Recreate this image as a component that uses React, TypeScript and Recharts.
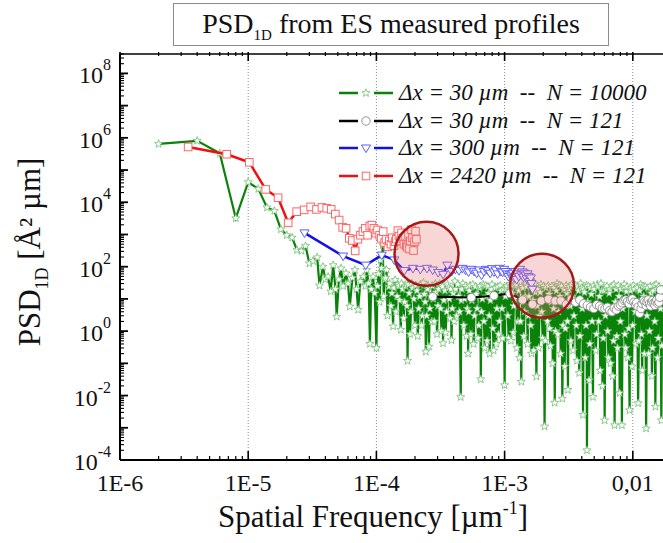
import React from "react";
import { ScatterChart, Scatter, XAxis, YAxis, ReferenceLine, ReferenceDot } from "recharts";

const FONT = '"Liberation Serif", "Times New Roman", serif';

// axes
const xDecades = [1e-6, 1e-5, 1e-4, 1e-3, 1e-2];
const xTickLabels = ["1E-6", "1E-5", "1E-4", "1E-3", "0,01"];
const xDomain: [number, number] = [1e-6, 0.0172];
const yExponents = [-4, -3, -2, -1, 0, 1, 2, 3, 4, 5, 6, 7, 8];
const yLabelExponents = [-4, -2, 0, 2, 4, 6, 8];
const yDomain: [number, number] = [1e-4, 4e8];
const minorSteps = [2, 3, 4, 5, 6, 7, 8, 9];

// [frequency µm^-1, PSD Å² µm]
const green: [number, number][] = [
  [2e-6, 6.5e5], [4e-6, 8.1e5], [6e-6, 3.3e5], [8e-6, 3.2e3], [1e-5, 4.2e4], [1.2e-5, 2.6e4],
  [1.4e-5, 6.9e3], [1.6e-5, 5.4e3], [1.8e-5, 1.45e3], [2e-5, 950], [2.2e-5, 800], [2.4e-5, 330],
  [2.6e-5, 310], [2.8e-5, 440], [3e-5, 126], [3.2e-5, 150], [3.45e-5, 195], [3.6e-5, 26],
  [3.83e-5, 100], [4e-5, 40], [4.2e-5, 49], [4.4e-5, 17], [4.6e-5, 112], [4.8e-5, 20],
  [4.9e-5, 2.8], [5.1e-5, 40], [5.3e-5, 89], [5.5e-5, 25], [5.8e-5, 62], [6e-5, 30],
  [6.2e-5, 5.8], [6.5e-5, 45], [6.8e-5, 79], [7e-5, 20], [7.2e-5, 4.6], [7.5e-5, 35],
  [7.9e-5, 49], [8.2e-5, 25], [8.4e-5, 79], [8.7e-5, 30], [8.9e-5, 0.4], [9.1e-5, 20],
  [9.4e-5, 49], [9.7e-5, 15],
  [1e-4, 0.3], [1.04e-4, 60], [1.08e-4, 160], [1.12e-4, 470], [1.16e-4, 40], [1.2e-4, 80],
  [1.25e-4, 24], [1.3e-4, 6], [1.35e-4, 1.4], [1.4e-4, 39], [1.45e-4, 12], [1.5e-4, 25],
  [1.55e-4, 1.1], [1.6e-4, 20], [1.66e-4, 8], [1.72e-4, 30], [1.75e-4, 0.12], [1.8e-4, 15],
  [1.86e-4, 4], [1.92e-4, 22], [2e-4, 1.5], [2.07e-4, 18], [2.14e-4, 5], [2.21e-4, 28],
  [2.29e-4, 3], [2.37e-4, 14], [2.43e-4, 0.23], [2.5e-4, 20], [2.57e-4, 0.33], [2.65e-4, 12],
  [2.74e-4, 25], [2.83e-4, 2], [2.92e-4, 16], [3.02e-4, 6], [3.12e-4, 30], [3.22e-4, 1],
  [3.31e-4, 0.42], [3.42e-4, 18], [3.53e-4, 4], [3.65e-4, 22], [3.77e-4, 2.5], [3.85e-4, 0.52],
  [3.97e-4, 15], [4.1e-4, 35], [4.23e-4, 3], [4.37e-4, 12], [4.55e-4, 0.009], [4.65e-4, 20],
  [4.8e-4, 1.5], [4.96e-4, 25], [5.12e-4, 5], [5.19e-4, 0.2], [5.3e-4, 18], [5.46e-4, 0.8],
  [5.64e-4, 28], [5.82e-4, 3], [6e-4, 14], [6.2e-4, 0.6], [6.4e-4, 22], [6.52e-4, 0.032],
  [6.7e-4, 10], [6.9e-4, 2], [7.1e-4, 26], [7.3e-4, 0.5], [7.5e-4, 15], [7.65e-4, 0.2],
  [7.85e-4, 20], [8.1e-4, 1.2], [8.35e-4, 12], [8.6e-4, 0.4], [8.85e-4, 24], [9.1e-4, 2],
  [9.4e-4, 18], [9.7e-4, 0.6],
  [1e-3, 0.021], [1.03e-3, 20], [1.06e-3, 3], [1.09e-3, 28], [1.12e-3, 0.5], [1.15e-3, 15],
  [1.18e-3, 6], [1.21e-3, 25], [1.25e-3, 0.3], [1.29e-3, 18], [1.33e-3, 2], [1.35e-3, 0.027],
  [1.39e-3, 22], [1.43e-3, 4], [1.47e-3, 30], [1.51e-3, 0.4], [1.55e-3, 12], [1.6e-3, 1.5],
  [1.64e-3, 26], [1.69e-3, 0.25], [1.74e-3, 16], [1.77e-3, 0.039], [1.82e-3, 20], [1.87e-3, 3],
  [1.92e-3, 28], [1.98e-3, 0.6], [2.05e-3, 0.0011], [2.1e-3, 22], [2.16e-3, 2], [2.22e-3, 14],
  [2.28e-3, 0.35], [2.34e-3, 25], [2.41e-3, 5], [2.46e-3, 0.006], [2.53e-3, 18], [2.6e-3, 0.8],
  [2.67e-3, 27], [2.74e-3, 0.2], [2.82e-3, 0.008], [2.9e-3, 20], [2.98e-3, 1.2], [3.06e-3, 15],
  [3.12e-3, 0.015], [3.2e-3, 24], [3.29e-3, 0.5], [3.38e-3, 12], [3.47e-3, 3], [3.57e-3, 26],
  [3.67e-3, 0.12], [3.77e-3, 18], [3.87e-3, 0.7], [3.98e-3, 22], [4.09e-3, 0.0025], [4.2e-3, 16],
  [4.31e-3, 1.5], [4.39e-3, 0.0002], [4.5e-3, 25], [4.62e-3, 0.4], [4.75e-3, 14], [4.89e-3, 0.009],
  [5e-3, 20], [5.14e-3, 0.25], [5.28e-3, 28], [5.42e-3, 2], [5.57e-3, 0.06], [5.72e-3, 18],
  [5.88e-3, 0.6], [6.03e-3, 0.0017], [6.2e-3, 22], [6.37e-3, 1], [6.54e-3, 15], [6.72e-3, 0.1],
  [6.9e-3, 25], [7.08e-3, 0.5], [7.21e-3, 0.0012], [7.4e-3, 20], [7.6e-3, 0.3], [7.8e-3, 12],
  [8e-3, 2], [8.22e-3, 0.0012], [8.45e-3, 24], [8.68e-3, 0.8], [8.92e-3, 17], [9.16e-3, 0.15],
  [9.44e-3, 0.0035], [9.7e-3, 22],
  [1e-2, 1.5], [1.03e-2, 20], [1.06e-2, 0.4], [1.1e-2, 0.0058], [1.13e-2, 18], [1.17e-2, 0.8],
  [1.2e-2, 25], [1.23e-2, 0.2], [1.27e-2, 0.00095], [1.31e-2, 22], [1.35e-2, 1], [1.39e-2, 15],
  [1.43e-2, 0.3], [1.47e-2, 26], [1.5e-2, 0.0045], [1.54e-2, 20], [1.58e-2, 0.6], [1.62e-2, 18],
  [1.67e-2, 0.0017], [1.7e-2, 12],
];

// further readings of the dense part of the N = 10000 profile
const greenDense: [number, number][] = [
  [1.02e-4, 25], [1.06e-4, 8], [1.1e-4, 90], [1.14e-4, 12], [1.18e-4, 45], [1.22e-4, 3],
  [1.27e-4, 30], [1.32e-4, 15], [1.37e-4, 22], [1.42e-4, 4], [1.47e-4, 28], [1.52e-4, 9],
  [1.57e-4, 30], [1.63e-4, 2.5], [1.69e-4, 25], [1.73e-4, 6], [1.78e-4, 28], [1.83e-4, 0.8],
  [1.89e-4, 30], [1.96e-4, 10], [2.03e-4, 26], [2.1e-4, 0.7], [2.18e-4, 12], [2.25e-4, 1.5],
  [2.33e-4, 32], [2.4e-4, 8], [2.47e-4, 3], [2.53e-4, 26], [2.61e-4, 5], [2.7e-4, 2],
  [2.78e-4, 10], [2.88e-4, 30], [2.97e-4, 0.8], [3.07e-4, 20], [3.17e-4, 5], [3.27e-4, 24],
  [3.36e-4, 9], [3.47e-4, 0.9], [3.59e-4, 28], [3.71e-4, 10], [3.81e-4, 20], [3.91e-4, 5],
  [4.03e-4, 2], [4.16e-4, 20], [4.3e-4, 28], [4.46e-4, 4], [4.6e-4, 9], [4.72e-4, 30],
  [4.88e-4, 10], [5.04e-4, 0.7], [5.16e-4, 22], [5.25e-4, 4], [5.38e-4, 26], [5.55e-4, 9],
  [5.73e-4, 0.4], [5.91e-4, 24], [6.1e-4, 5], [6.3e-4, 1.5], [6.46e-4, 25], [6.61e-4, 4],
  [6.8e-4, 28], [7e-4, 0.3], [7.2e-4, 12], [7.4e-4, 24], [7.58e-4, 3], [7.75e-4, 9],
  [7.97e-4, 28], [8.22e-4, 0.25], [8.47e-4, 22], [8.72e-4, 5], [8.97e-4, 0.8], [9.25e-4, 26],
  [9.55e-4, 5], [9.85e-4, 20],
  [1.015e-3, 12], [1.045e-3, 25], [1.075e-3, 0.6], [1.105e-3, 18], [1.135e-3, 26], [1.165e-3, 0.9],
  [1.195e-3, 10], [1.23e-3, 28], [1.27e-3, 2], [1.31e-3, 0.15], [1.37e-3, 25], [1.41e-3, 0.7],
  [1.45e-3, 12], [1.49e-3, 24], [1.53e-3, 3], [1.575e-3, 28], [1.62e-3, 0.2], [1.665e-3, 9],
  [1.715e-3, 30], [1.795e-3, 6], [1.845e-3, 0.3], [1.895e-3, 16], [1.95e-3, 4], [2.015e-3, 25],
  [2.075e-3, 0.5], [2.13e-3, 10], [2.19e-3, 26], [2.25e-3, 1.2], [2.31e-3, 8], [2.375e-3, 0.1],
  [2.435e-3, 22], [2.495e-3, 1], [2.565e-3, 30], [2.635e-3, 4], [2.705e-3, 12], [2.78e-3, 25],
  [2.86e-3, 1.5], [2.94e-3, 0.08], [3.02e-3, 26], [3.09e-3, 2], [3.16e-3, 20], [3.245e-3, 6],
  [3.335e-3, 28], [3.425e-3, 0.25], [3.52e-3, 10], [3.62e-3, 1.5], [3.72e-3, 24], [3.82e-3, 0.05],
  [3.925e-3, 30], [4.035e-3, 5], [4.145e-3, 20], [4.255e-3, 0.15], [4.35e-3, 26], [4.445e-3, 8],
  [4.56e-3, 0.03], [4.685e-3, 22], [4.82e-3, 2], [4.945e-3, 26], [5.07e-3, 6], [5.21e-3, 0.8],
  [5.35e-3, 24], [5.495e-3, 12], [5.645e-3, 30], [5.8e-3, 0.02], [5.955e-3, 18], [6.115e-3, 3],
  [6.285e-3, 25], [6.455e-3, 0.15], [6.63e-3, 20], [6.81e-3, 4], [6.99e-3, 0.04], [7.145e-3, 28],
  [7.305e-3, 8], [7.5e-3, 0.7], [7.7e-3, 26], [7.9e-3, 0.012], [8.11e-3, 20], [8.335e-3, 5],
  [8.565e-3, 28], [8.8e-3, 0.3], [9.04e-3, 24], [9.3e-3, 1.2], [9.57e-3, 18], [9.85e-3, 0.08],
  [1.015e-2, 26], [1.045e-2, 4], [1.08e-2, 22], [1.115e-2, 0.5], [1.15e-2, 28], [1.185e-2, 0.06],
  [1.215e-2, 12], [1.25e-2, 24], [1.29e-2, 3], [1.33e-2, 0.2], [1.37e-2, 25], [1.41e-2, 0.04],
  [1.45e-2, 18], [1.485e-2, 2], [1.52e-2, 28], [1.56e-2, 0.15], [1.6e-2, 24], [1.645e-2, 5],
  [1.685e-2, 0.35],
];

const black: [number, number][] = [
  [2.75e-4, 11.7], [5.5e-4, 11], [8.26e-4, 12.6], [1.1e-3, 14.8], [1.38e-3, 9.3], [1.65e-3, 6.8],
  [1.93e-3, 8.7], [2.2e-3, 9.8], [2.48e-3, 8.7], [2.75e-3, 8.7], [3.03e-3, 6.8], [3.31e-3, 9.8],
  [3.58e-3, 7.9], [3.86e-3, 9.3], [4.13e-3, 7.1], [4.41e-3, 6.3], [4.68e-3, 5.6], [4.96e-3, 5],
  [5.23e-3, 6.6], [5.51e-3, 6], [5.78e-3, 5.2], [6.06e-3, 5], [6.34e-3, 5.5], [6.61e-3, 4.4],
  [6.89e-3, 4], [7.16e-3, 5.2], [7.44e-3, 4.6], [7.71e-3, 6], [7.99e-3, 6.6], [8.26e-3, 7.6],
  [8.54e-3, 8.9], [8.82e-3, 9.3], [9.09e-3, 8.3], [9.37e-3, 7.1], [9.64e-3, 9.3], [9.92e-3, 10],
  [1.02e-2, 7.9], [1.05e-2, 6.6], [1.07e-2, 7.6], [1.1e-2, 5.6], [1.13e-2, 3.6], [1.16e-2, 5],
  [1.18e-2, 7.1], [1.21e-2, 9.1], [1.24e-2, 8.3], [1.27e-2, 6.3], [1.29e-2, 7.9], [1.32e-2, 9.3],
  [1.35e-2, 7.2], [1.38e-2, 6], [1.4e-2, 7.9], [1.43e-2, 8.9], [1.46e-2, 7.6], [1.49e-2, 6.3],
  [1.51e-2, 8.3], [1.54e-2, 9.3], [1.57e-2, 7.1], [1.6e-2, 7.9], [1.62e-2, 11.2], [1.65e-2, 19],
];

const blue: [number, number][] = [
  [2.75e-5, 1120], [5.5e-5, 214], [8.26e-5, 112], [1.1e-4, 229], [1.38e-4, 162], [1.65e-4, 76],
  [1.93e-4, 89], [2.2e-4, 83], [2.48e-4, 89], [2.75e-4, 79], [3.03e-4, 66], [3.31e-4, 58],
  [3.58e-4, 112], [3.86e-4, 71], [4.13e-4, 83], [4.41e-4, 76], [4.68e-4, 89], [4.96e-4, 79],
  [5.23e-4, 69], [5.51e-4, 83], [5.78e-4, 72], [6.06e-4, 63], [6.34e-4, 79], [6.61e-4, 55],
  [6.89e-4, 71], [7.16e-4, 83], [7.44e-4, 76], [7.71e-4, 63], [7.99e-4, 87], [8.26e-4, 69],
  [8.54e-4, 79], [8.82e-4, 60], [9.09e-4, 89], [9.37e-4, 72], [9.64e-4, 68], [9.92e-4, 83],
  [1.02e-3, 71], [1.05e-3, 60], [1.07e-3, 50], [1.1e-3, 58], [1.13e-3, 52], [1.16e-3, 63],
  [1.18e-3, 46], [1.21e-3, 71], [1.24e-3, 40], [1.27e-3, 60], [1.29e-3, 50], [1.32e-3, 83],
  [1.35e-3, 56], [1.38e-3, 69], [1.4e-3, 48], [1.43e-3, 63], [1.46e-3, 55], [1.49e-3, 42],
  [1.51e-3, 60], [1.54e-3, 50], [1.57e-3, 35], [1.6e-3, 45], [1.62e-3, 30], [1.65e-3, 20],
];

const red: [number, number][] = [
  [3.4e-6, 5.2e5], [6.8e-6, 3.1e5], [1.02e-5, 1.74e5], [1.37e-5, 2.5e4], [1.71e-5, 1.38e4],
  [2.05e-5, 2.3e3], [2.39e-5, 5.1e3], [2.73e-5, 5.8e3], [3.07e-5, 7.2e3], [3.41e-5, 6e3],
  [3.76e-5, 6.9e3], [4.1e-5, 6.5e3], [4.44e-5, 6e3], [4.78e-5, 4.3e3], [5.12e-5, 2.8e3],
  [5.46e-5, 1660], [5.8e-5, 1550], [6.15e-5, 760], [6.49e-5, 650], [6.83e-5, 310],
  [7.17e-5, 710], [7.51e-5, 950], [7.85e-5, 1230], [8.2e-5, 1550], [8.54e-5, 950],
  [8.88e-5, 1820], [9.22e-5, 1950], [9.56e-5, 1550], [9.9e-5, 1100], [1.02e-4, 1380],
  [1.06e-4, 950], [1.09e-4, 760], [1.13e-4, 1230], [1.16e-4, 560], [1.19e-4, 710],
  [1.23e-4, 420], [1.26e-4, 630], [1.3e-4, 500], [1.33e-4, 790], [1.37e-4, 450],
  [1.4e-4, 600], [1.43e-4, 720], [1.47e-4, 1320], [1.5e-4, 890], [1.54e-4, 630],
  [1.57e-4, 1120], [1.61e-4, 760], [1.64e-4, 500], [1.67e-4, 890], [1.71e-4, 450],
  [1.74e-4, 400], [1.78e-4, 1000], [1.81e-4, 355], [1.84e-4, 630], [1.88e-4, 1410],
  [1.91e-4, 790], [1.95e-4, 316], [1.98e-4, 600], [2.02e-4, 1260], [2.05e-4, 710],
];

// highlighted regions [frequency, PSD]
const highlights: [number, number][] = [[2.46e-4, 251], [1.96e-3, 25.7]];

const legendLabels = [
  "Δx = 30 µm  --  N = 10000",
  "Δx = 30 µm  --  N = 121",
  "Δx = 300 µm  --  N = 121",
  "Δx = 2420 µm  --  N = 121",
];

const GREEN = "#0a820a";
const BLUE = "#1010ee";
const RED = "#ee1010";

const toPts = (arr: [number, number][]) => arr.map(([f, p]) => ({ f, p }));
const greenPts = toPts([...green, ...greenDense].sort((a, b) => a[0] - b[0]));

const xTicks = xDecades
  .flatMap((d) => [d, ...minorSteps.map((m) => m * d)])
  .filter((v) => v <= xDomain[1]);
const yTicks = yExponents
  .flatMap((e) => [Math.pow(10, e), ...minorSteps.map((m) => m * Math.pow(10, e))])
  .filter((v) => v <= yDomain[1]);

const decadeExp = (v: number) => {
  const e = Math.round(Math.log10(v));
  return Math.abs(v / Math.pow(10, e) - 1) < 1e-6 ? e : null;
};

type Kind = "star" | "circle" | "tri" | "square";

function Mark({ kind, cx, cy }: { kind: Kind; cx: number; cy: number }) {
  if (cx == null || cy == null) return null;
  if (kind === "star") {
    const pts: string[] = [];
    for (let i = 0; i < 10; i++) {
      const r = i % 2 ? 1.8 : 4.2;
      const a = (-90 + i * 36) * (Math.PI / 180);
      pts.push(`${cx + r * Math.cos(a)},${cy + r * Math.sin(a)}`);
    }
    return <polygon points={pts.join(" ")} fill="#fff" stroke="#6fbf6f" strokeWidth={0.8} />;
  }
  if (kind === "circle") return <circle cx={cx} cy={cy} r={4.2} fill="#fff" stroke="#888" strokeWidth={0.9} />;
  if (kind === "tri")
    return (
      <polygon
        points={`${cx - 4.6},${cy - 3} ${cx + 4.6},${cy - 3} ${cx},${cy + 4.6}`}
        fill="#fff"
        stroke="#5b5bff"
        strokeWidth={1}
      />
    );
  return <rect x={cx - 3.8} y={cy - 3.8} width={7.6} height={7.6} fill="#fff" stroke="#ff6464" strokeWidth={1} />;
}

const shapeOf = (kind: Kind) => (p: any) => <Mark kind={kind} cx={p.cx} cy={p.cy} />;

function BottomTick(props: any) {
  const { x, y, payload } = props;
  const i = xDecades.findIndex((d) => Math.abs(payload.value / d - 1) < 1e-6);
  if (i < 0) return <line x1={x} x2={x} y1={y} y2={y - 4} stroke="#000" strokeWidth={1.2} />;
  return (
    <g>
      <line x1={x} x2={x} y1={y} y2={y - 9} stroke="#000" strokeWidth={1.6} />
      <text x={x} y={y + 31} textAnchor="middle" fontFamily={FONT} fontSize={24} fill="#111">
        {xTickLabels[i]}
      </text>
    </g>
  );
}

function TopTick(props: any) {
  const { x, y, payload } = props;
  const major = xDecades.some((d) => Math.abs(payload.value / d - 1) < 1e-6);
  return <line x1={x} x2={x} y1={y} y2={y + (major ? 9 : 4)} stroke="#000" strokeWidth={major ? 1.6 : 1.2} />;
}

function LeftTick(props: any) {
  const { x, y, payload } = props;
  const e = decadeExp(payload.value);
  if (e === null) return <line x1={x} x2={x + 4} y1={y} y2={y} stroke="#000" strokeWidth={1.1} />;
  return (
    <g>
      <line x1={x} x2={x + 8} y1={y} y2={y} stroke="#000" strokeWidth={1.8} />
      {yLabelExponents.includes(e) && (
        <text x={x - 9} y={y + 10} textAnchor="end" fontFamily={FONT} fontSize={24} fill="#111">
          10
          <tspan dy={-13} fontSize={16}>
            {String(e)}
          </tspan>
        </text>
      )}
    </g>
  );
}

const legendKinds: Kind[] = ["star", "circle", "tri", "square"];
const legendColors = [GREEN, "#000", BLUE, RED];

export default function App() {
  return (
    <div style={{ position: "absolute", left: 0, top: 0, width: 663, height: 543, background: "#fff", overflow: "hidden" }}>
      <ScatterChart width={663} height={543} margin={{ top: 34, right: 0, bottom: 53, left: 60 }}>
        <XAxis
          xAxisId="top"
          orientation="top"
          type="number"
          dataKey="f"
          scale="log"
          domain={xDomain}
          allowDataOverflow
          ticks={xTicks}
          interval={0}
          tick={<TopTick />}
          tickLine={false}
          tickSize={0}
          height={20}
          axisLine={{ stroke: "#000", strokeWidth: 1.5 }}
        />
        <XAxis
          type="number"
          dataKey="f"
          scale="log"
          domain={xDomain}
          allowDataOverflow
          ticks={xTicks}
          interval={0}
          tick={<BottomTick />}
          tickLine={false}
          tickSize={0}
          tickMargin={0}
          height={30}
          axisLine={{ stroke: "#000", strokeWidth: 2 }}
        />
        <YAxis
          type="number"
          dataKey="p"
          scale="log"
          domain={yDomain}
          allowDataOverflow
          ticks={yTicks}
          interval={0}
          tick={<LeftTick />}
          tickLine={false}
          tickSize={0}
          tickMargin={0}
          width={60}
          axisLine={{ stroke: "#000", strokeWidth: 2 }}
        />
        {xDecades.slice(1).map((d) => (
          <ReferenceLine key={d} x={d} stroke="#8a8a8a" strokeWidth={1} strokeDasharray="1 2" />
        ))}
        <Scatter
          data={greenPts}
          line={{ stroke: GREEN, strokeWidth: 2.2 }}
          lineType="joint"
          shape={shapeOf("star")}
          isAnimationActive={false}
        />
        <Scatter
          data={toPts(black)}
          line={{ stroke: "#000", strokeWidth: 2 }}
          lineType="joint"
          shape={shapeOf("circle")}
          isAnimationActive={false}
        />
        <Scatter
          data={toPts(blue)}
          line={{ stroke: BLUE, strokeWidth: 2.5 }}
          lineType="joint"
          shape={shapeOf("tri")}
          isAnimationActive={false}
        />
        <Scatter
          data={toPts(red)}
          line={{ stroke: RED, strokeWidth: 2.5 }}
          lineType="joint"
          shape={shapeOf("square")}
          isAnimationActive={false}
        />
        {highlights.map(([f, p]) => (
          <ReferenceDot
            key={f}
            x={f}
            y={p}
            r={32}
            fill="rgba(235,120,120,0.3)"
            stroke="#a31a1a"
            strokeWidth={2.5}
          />
        ))}
      </ScatterChart>

      {/* title box */}
      <div
        style={{
          position: "absolute",
          left: 173,
          top: 3,
          width: 436,
          height: 43,
          boxSizing: "border-box",
          border: "1px solid #8c8c8c",
          fontFamily: FONT,
          fontSize: 28,
          lineHeight: "40px",
          textAlign: "center",
          color: "#111",
        }}
      >
        PSD<sub style={{ fontSize: 15, verticalAlign: "-7px" }}>1D</sub> from ES measured profiles
      </div>

      {/* legend */}
      {legendLabels.map((label, i) => (
        <div
          key={label}
          style={{
            position: "absolute",
            left: 339,
            top: 79 + i * 27.5,
            height: 28,
            display: "flex",
            alignItems: "center",
            fontFamily: FONT,
            fontStyle: "italic",
            fontSize: 23,
            color: "#111",
            whiteSpace: "pre",
          }}
        >
          <svg width={58} height={16} style={{ marginRight: 2 }}>
            <line x1={0} x2={19} y1={8} y2={8} stroke={legendColors[i]} strokeWidth={2.5} />
            <line x1={35} x2={54} y1={8} y2={8} stroke={legendColors[i]} strokeWidth={2.5} />
            <Mark kind={legendKinds[i]} cx={27} cy={8} />
          </svg>
          {label}
        </div>
      ))}

      {/* axis titles */}
      <svg width={663} height={543} style={{ position: "absolute", left: 0, top: 0, pointerEvents: "none" }}>
        <text x={373} y={527} textAnchor="middle" fontFamily={FONT} fontSize={31} fill="#111">
          Spatial Frequency [µm
          <tspan dy={-13} fontSize={18}>
            -1
          </tspan>
          <tspan dy={13}>]</tspan>
        </text>
        <text
          transform="translate(40 252) rotate(-90)"
          textAnchor="middle"
          fontFamily={FONT}
          fontSize={31}
          fill="#111"
        >
          PSD
          <tspan dy={8} fontSize={18}>
            1D
          </tspan>
          <tspan dy={-8}> [Å² µm]</tspan>
        </text>
      </svg>
    </div>
  );
}
